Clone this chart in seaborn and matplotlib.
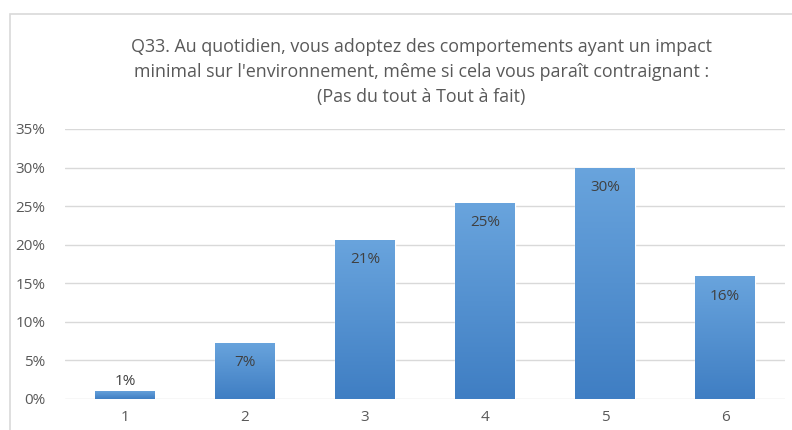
import matplotlib

matplotlib.use("Agg")
import matplotlib.pyplot as plt
import numpy as np
import pandas as pd
import seaborn as sns
from matplotlib.colors import LinearSegmentedColormap
from matplotlib.patches import Rectangle

# --------------------------------------------------------------------------- data
categories = ["1", "2", "3", "4", "5", "6"]
values = [1.1, 7.3, 20.6, 25.4, 30.0, 15.9]
value_labels = ["1%", "7%", "21%", "25%", "30%", "16%"]
y_ticks = [0, 5, 10, 15, 20, 25, 30, 35]
title = ("Q33. Au quotidien, vous adoptez des comportements ayant un impact\n"
         "minimal sur l'environnement, même si cela vous paraît contraignant :\n"
         "(Pas du tout à Tout à fait)")

df = pd.DataFrame({"cat": categories, "val": values})

sns.set_theme(style="white")
plt.rcParams["font.family"] = ["Open Sans", "DejaVu Sans"]

fig = plt.figure(figsize=(7.92, 4.30), dpi=100)
ax = fig.add_axes([65 / 792, 31 / 430, 720 / 792, 270 / 430])

sns.barplot(data=df, x="cat", y="val", color="#5B9BD5", width=0.5,
            saturation=1, ax=ax, zorder=2)

# vertical gradient inside each bar, lighter at top
grad = LinearSegmentedColormap.from_list("bar", ["#3F7EC3", "#69A4DD"])
ramp = np.linspace(0, 1, 256).reshape(-1, 1)
for p in ax.patches:
    x0, w, h = p.get_x(), p.get_width(), p.get_height()
    im = ax.imshow(ramp, cmap=grad, origin="lower", aspect="auto",
                   extent=[x0, x0 + w, 0, h], zorder=3)
    im.set_clip_path(p)
ax.set_xlim(-0.5, len(categories) - 0.5)

ax.set_ylim(0, 35)
ax.set_yticks(y_ticks)
ax.set_yticklabels([f"{t}%" for t in y_ticks])
ax.yaxis.grid(True, color="#D9D9D9", lw=1)
ax.set_axisbelow(True)
for s in ax.spines.values():
    s.set_visible(False)
ax.tick_params(axis="both", length=0, labelsize=11, labelcolor="#595959")
ax.tick_params(axis="y", pad=14)
ax.tick_params(axis="x", pad=8)
ax.set_xlabel("")
ax.set_ylabel("")

for i, (v, lab) in enumerate(zip(values, value_labels)):
    if v < 3:
        ax.text(i, v + 0.2, lab, ha="center", va="bottom", fontsize=11,
                color="#404040", zorder=4)
    else:
        ax.text(i, v - 1.6, lab, ha="center", va="top", fontsize=11,
                color="#404040", zorder=4)

fig.text(0.532, 1 - 38 / 430, title, ha="center", va="top", fontsize=12.9,
         color="#595959", linespacing=1.5)

# chart frame
fig.patches.append(Rectangle((10 / 792, -0.1), 1.2, 1.1 - 14 / 430,
                             transform=fig.transFigure, fill=False,
                             edgecolor="#D9D9D9", lw=1.2))

fig.savefig("out.png", dpi=100)
